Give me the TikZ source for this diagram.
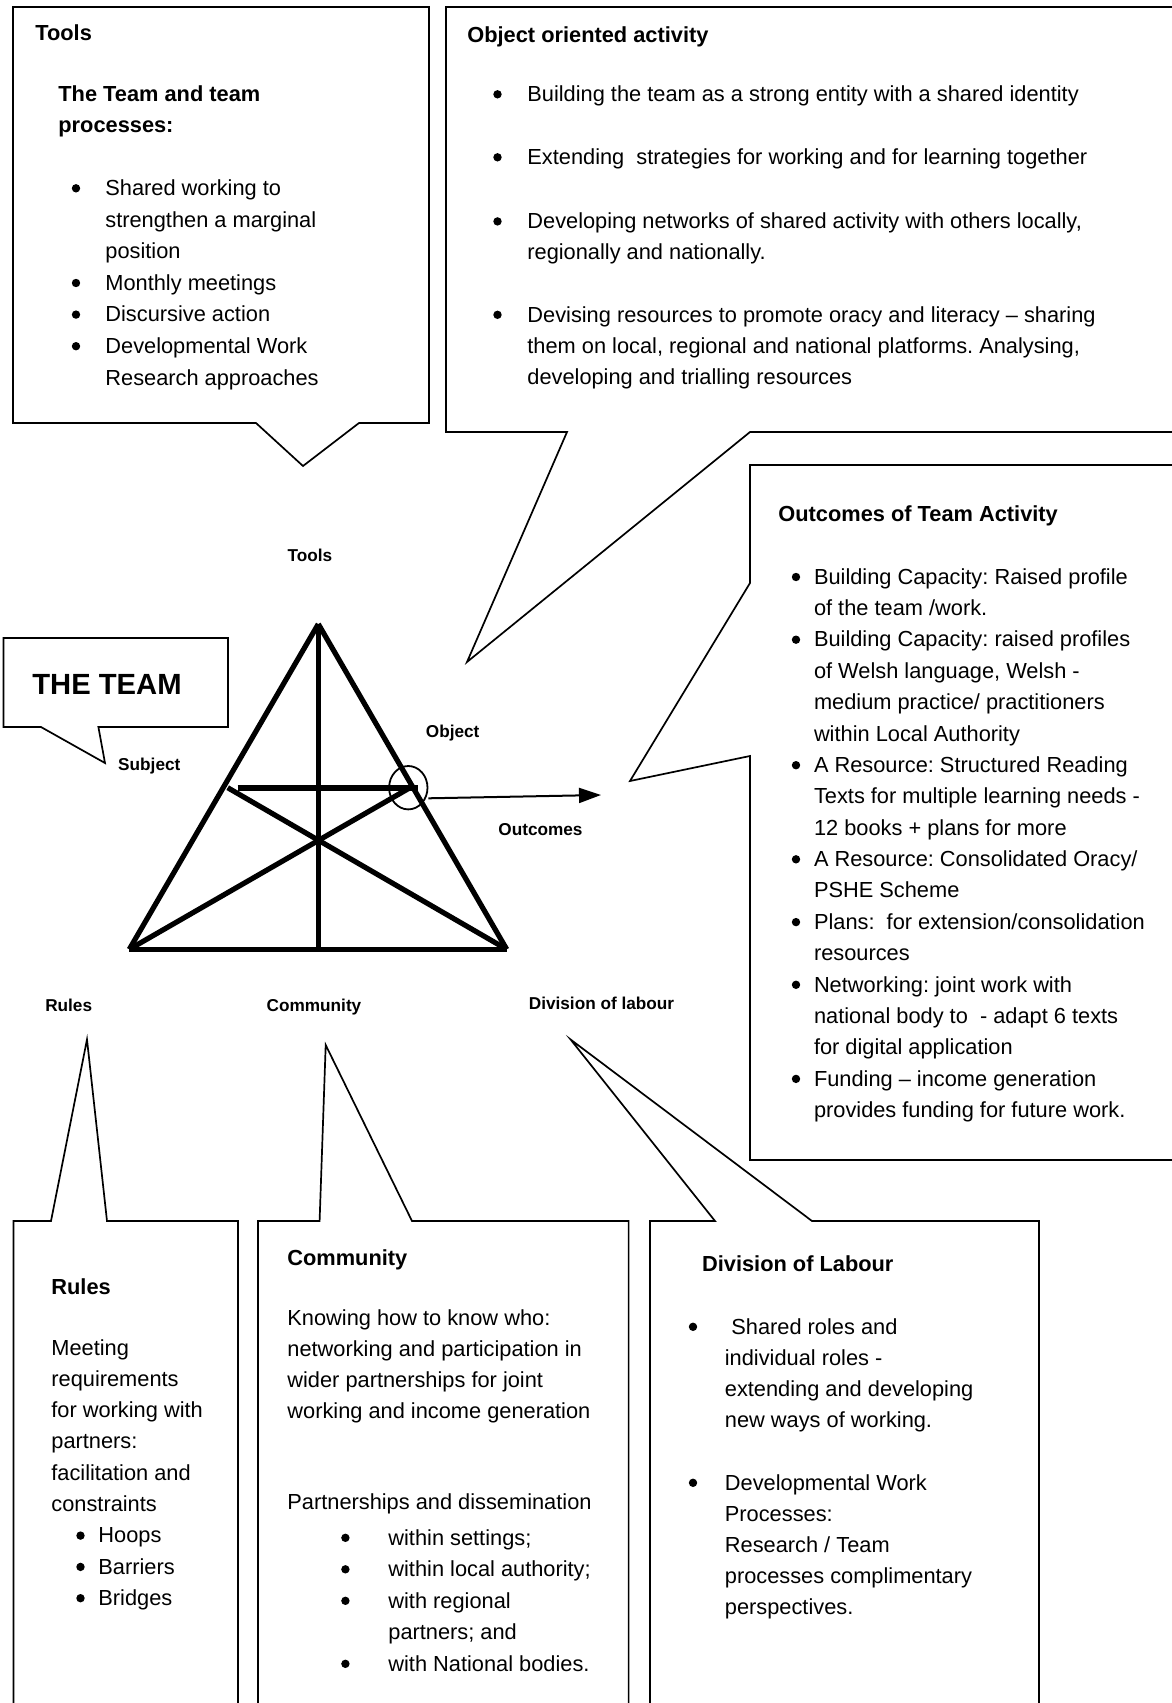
\documentclass[tikz,border=0pt]{standalone}
\usepackage{fontspec}
\setmainfont{Liberation Sans}
\usetikzlibrary{arrows.meta,shapes.geometric}
\frenchspacing
\begin{document}
\begin{tikzpicture}[x=0.5pt,y=-0.5pt,
  body/.style={anchor=base west, inner sep=0pt, font=\fontsize{10.9}{13}\selectfont},
  bodyb/.style={anchor=base west, inner sep=0pt, font=\fontsize{10.9}{13}\selectfont\bfseries},
  bul/.style={circle, fill=black, inner sep=0pt, minimum size=4.2pt, yshift=3.6pt},
  lab/.style={anchor=base, inner sep=0pt, font=\fontsize{8.6}{10}\selectfont\bfseries},
  callout/.style={draw, line width=0.85pt, line join=miter},
  tri/.style={line width=2.6pt},
  bar/.style={line width=2.9pt},
]
\clip (0,0) rectangle (1172,1703);

% ---------- callout boxes ----------
\draw[callout] (13,7) -- (429,7) -- (429,423) -- (359,423) -- (303,466) -- (256,423) -- (13,423) -- cycle;
\draw[callout] (446,7) -- (1200,7) -- (1200,432) -- (750,432) -- (467,662) -- (567,432) -- (446,432) -- cycle;
\draw[callout] (750,465) -- (1200,465) -- (1200,1160) -- (750,1160) -- (750,756) -- (630,781) -- (750,583) -- cycle;
\draw[callout] (3.5,638) -- (228,638) -- (228,727) -- (98.4,727) -- (105,763) -- (41,727) -- (3.5,727) -- cycle;
\draw[callout] (13.5,1221) -- (51,1221) -- (87,1039.5) -- (107,1221) -- (238,1221) -- (238,1720) -- (13.5,1720) -- cycle;
\draw[callout] (258,1221) -- (319.6,1221) -- (325.7,1045) -- (412,1221) -- (628.6,1221) -- (628.6,1720) -- (258,1720) -- cycle;
\draw[callout] (650,1221) -- (715,1221) -- (570.6,1039.5) -- (812,1221) -- (1039,1221) -- (1039,1720) -- (650,1720) -- cycle;

% ---------- triangle ----------
\coordinate (A) at (318.3,624);
\coordinate (BL) at (129.3,949.3);
\coordinate (BR) at (506.7,949.3);
\coordinate (M) at (318.3,949.3);
\coordinate (PL) at (227.7,787.7);
\coordinate (PR) at (410,787.7);
\coordinate (HL) at (237.7,788.3);
\coordinate (HR) at (418.3,788.3);
\draw[tri] (A) -- (BL);
\draw[tri] (A) -- (BR);
\draw[tri] (BL) -- (BR);
\draw[tri] (A) -- (M);
\draw[tri] (BL) -- (PR);
\draw[tri] (BR) -- (PL);
\draw[bar] (HL) -- (HR);
\node[draw, line width=0.9pt, ellipse, minimum width=19.2pt, minimum height=21.7pt, inner sep=0pt] (circ) at (408.3,787.7) {};
\coordinate (ar1) at (428.3,798.3);
\coordinate (ar2) at (601,795);
\draw[line width=1pt, -{Triangle[length=11pt,width=7.5pt]}] (ar1) -- (ar2);

% ---------- triangle labels ----------
\node[lab] (lTools) at (310,561) {Tools};
\node[lab] (lObject) at (452.7,737) {Object};
\node[lab] (lSubject) at (149.3,770) {Subject};
\node[lab] (lOutcomes) at (540.5,835) {Outcomes};
\node[lab] (lRules) at (68.7,1011) {Rules};
\node[lab] (lCommunity) at (314,1011) {Community};
\node[lab] (lDivision) at (601.5,1009) {Division of labour};
\node[anchor=base, inner sep=0pt, font=\fontsize{14.6}{17}\selectfont\bfseries] (team) at (107,694) {THE TEAM};

% ---------- Tools box text ----------
\node[bodyb] (tT) at (35,40) {Tools};
\node[bodyb] (tH1) at (58,101) {The Team and team};
\node[bodyb] (tH2) at (58,132.5) {processes:};
\foreach \y/\t [count=\i] in {195.5/{Shared working to},227/{strengthen a marginal},258.6/{position},290.2/{Monthly meetings},321.8/{Discursive action},353.4/{Developmental Work},385/{Research approaches}}
  \node[body] (tl\i) at (105,\y) {\t};
\foreach \y [count=\i] in {195.5,290.2,321.8,353.4}
  \node[bul] (tb\i) at (76,\y) {};

% ---------- Object box text ----------
\node[bodyb] (oT) at (467,42) {Object oriented activity};
\foreach \y/\t [count=\i] in {101.5/{Building the team as a strong entity with a shared identity},164.5/{Extending\ \ strategies for working and for learning together},228.6/{Developing networks of shared activity with others locally,},259.6/{regionally and nationally.},322/{Devising resources to promote oracy and literacy – sharing},353/{them on local, regional and national platforms. Analysing,},384/{developing and trialling resources}}
  \node[body] (ol\i) at (527,\y) {\t};
\foreach \y [count=\i] in {101.5,164.5,228.6,322}
  \node[bul] (ob\i) at (497.5,\y) {};

% ---------- Outcomes box text ----------
\node[bodyb] (uT) at (778,521) {Outcomes of Team Activity};
\foreach \y/\t [count=\i] in {584.2/{Building Capacity: Raised profile},615.6/{of the team /work.},646.9/{Building Capacity: raised profiles},678.3/{of Welsh language, Welsh -},709.7/{medium practice/ practitioners},741.1/{within Local Authority},772.4/{A Resource: Structured Reading},803.8/{Texts for multiple learning needs -},835.2/{12 books + plans for more},866.5/{A Resource: Consolidated Oracy/},897.9/{PSHE Scheme},929.3/{Plans:\ \ for extension/consolidation},960.6/{resources},992/{Networking: joint work with},1023.4/{national body to\ \ - adapt 6 texts},1054.8/{for digital application},1086.1/{Funding – income generation},1117.5/{provides funding for future work.}}
  \node[body] (ul\i) at (813.6,\y) {\t};
\foreach \y [count=\i] in {584.2,646.9,772.4,866.5,929.3,992,1086.1}
  \node[bul] (ub\i) at (796,\y) {};

% ---------- Rules box text ----------
\node[bodyb] (rT) at (51,1294) {Rules};
\foreach \y/\t [count=\i] in {1355/{Meeting},1386.3/{requirements},1417.6/{for working with},1448.9/{partners:},1480.2/{facilitation and},1511.5/{constraints}}
  \node[body] (rl\i) at (51,\y) {\t};
\foreach \y/\t [count=\i] in {1542.8/{Hoops},1574.1/{Barriers},1605.4/{Bridges}}
  \node[body] (rx\i) at (98,\y) {\t};
\foreach \y [count=\i] in {1542.8,1574.1,1605.4}
  \node[bul] (rb\i) at (80.5,\y) {};

% ---------- Community box text ----------
\node[bodyb] (cT) at (287,1265) {Community};
\foreach \y/\t [count=\i] in {1325.7/{Knowing how to know who:},1356.5/{networking and participation in},1387.3/{wider partnerships for joint},1418/{working and income generation},1509/{Partnerships and dissemination}}
  \node[body] (cl\i) at (287,\y) {\t};
\foreach \y/\t [count=\i] in {1545/{within settings;},1576.5/{within local authority;},1608/{with regional},1639.5/{partners; and},1671/{with National bodies.}}
  \node[body] (cx\i) at (388,\y) {\t};
\foreach \y [count=\i] in {1545,1576.5,1608,1671}
  \node[bul] (cb\i) at (345.4,\y) {};

% ---------- Division box text ----------
\node[bodyb] (dT) at (701.7,1271) {Division of Labour};
\node[body] (dl0) at (731,1334) {Shared roles and};
\foreach \y/\t [count=\i] in {1365/{individual roles -},1396/{extending and developing},1427/{new ways of working.},1490/{Developmental Work},1521/{Processes:},1552/{Research / Team},1583/{processes complimentary},1614/{perspectives.}}
  \node[body] (dl\i) at (724.5,\y) {\t};
\foreach \y [count=\i] in {1334,1490}
  \node[bul] (db\i) at (693,\y) {};
\end{tikzpicture}
\end{document}
